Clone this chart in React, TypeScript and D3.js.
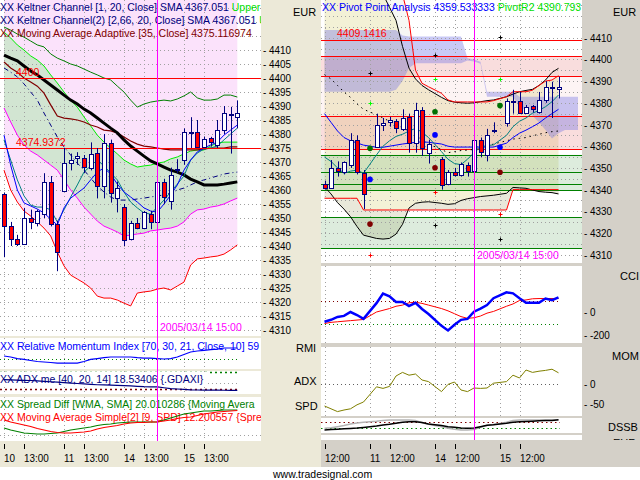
import React from 'react';
import * as d3 from 'd3';

// hourly bars, 4 sessions of 9 bars (10:00 - 18:00)
const dayLabels = ['10', '11', '14', '15'];

const opens = [4358.6, 4347.1, 4342.5, 4340.8, 4350, 4348.3, 4351.5, 4363, 4347.8,
  4359.8, 4369.7, 4371.3, 4371.5, 4367.9, 4373.3, 4361.5, 4376.7, 4357,
  4354, 4342.6, 4348.3, 4346.5, 4351.3, 4348.4, 4362.9, 4356, 4367,
  4370.6, 4380.8, 4380.8, 4375.2, 4378.6, 4375.9, 4381.3, 4387, 4386.2];
const highs = [4359, 4348.6, 4344, 4353.6, 4353, 4353, 4366, 4365, 4349,
  4375, 4373, 4373.5, 4372.5, 4377, 4375, 4380, 4378, 4363,
  4355, 4349, 4350, 4352.5, 4352.5, 4365, 4364, 4368, 4371,
  4382, 4386, 4385, 4379, 4379, 4385, 4390, 4389.7, 4392];
const lows = [4336, 4340, 4340, 4340.5, 4346, 4347, 4350, 4347, 4331,
  4359.5, 4367, 4369, 4366, 4367, 4357, 4357, 4355.5, 4352,
  4340, 4342, 4346, 4346, 4346, 4348, 4355, 4353, 4366,
  4369, 4375, 4375, 4375, 4375.5, 4375, 4380, 4373, 4382];
const closes = [4347.1, 4342.5, 4340.8, 4350, 4348.4, 4352.5, 4362.8, 4348, 4338,
  4369.7, 4370.8, 4372.3, 4368.2, 4373, 4361.5, 4376.7, 4359, 4360.8,
  4342, 4348.3, 4346.5, 4352, 4348.4, 4362.8, 4357.5, 4365.2, 4367.5,
  4380.8, 4380.6, 4375.2, 4378.2, 4377, 4381.3, 4387.4, 4387.1, 4387.4];

// ---- left chart: Keltner channels + averages (per bar) ----
const keltUpperOuter = [4418.2, 4417.1, 4415.7, 4414.6, 4413.2, 4411.8, 4411.1, 4408.6, 4407.1, 4406.1, 4405.0, 4404.3, 4403.2, 4402.1, 4401.1, 4400.0, 4399.3, 4397.1, 4395.0, 4392.1, 4389.6, 4390.7, 4391.4, 4391.8, 4392.1, 4391.8, 4392.5, 4393.6, 4395.0, 4392.9, 4392.1, 4392.1, 4392.5, 4393.9, 4393.9, 4393.2];
const keltLowerOuter = [4367.1, 4360.0, 4355.7, 4352.5, 4350.7, 4348.6, 4346.4, 4343.6, 4337.9, 4332.9, 4329.6, 4328.2, 4326.8, 4325.0, 4322.1, 4321.4, 4321.4, 4320.7, 4319.6, 4318.6, 4323.2, 4323.6, 4323.9, 4324.6, 4325.0, 4324.3, 4325.7, 4327.1, 4333.2, 4335.4, 4335.7, 4336.1, 4336.4, 4337.1, 4338.6, 4340.4];
const keltUpperInner = [4416.4, 4414.3, 4411.8, 4410.0, 4407.9, 4406.4, 4404.3, 4401.1, 4398.2, 4395.0, 4392.1, 4389.6, 4386.1, 4382.9, 4379.6, 4377.1, 4375.0, 4372.9, 4370.7, 4369.3, 4368.2, 4368.6, 4368.9, 4369.6, 4370.0, 4371.1, 4371.8, 4372.9, 4373.9, 4374.3, 4374.3, 4375.7, 4376.8, 4377.1, 4377.1, 4377.1];
const keltLowerInner = [4389.3, 4384.3, 4379.6, 4376.1, 4373.9, 4372.5, 4370.7, 4368.9, 4367.1, 4363.6, 4360.0, 4357.1, 4353.9, 4351.4, 4348.9, 4347.1, 4346.1, 4345.0, 4343.6, 4343.9, 4344.3, 4344.6, 4345.4, 4345.7, 4346.1, 4346.4, 4347.1, 4348.6, 4351.4, 4352.9, 4353.2, 4353.9, 4354.3, 4355.0, 4356.1, 4357.1];
const keltSma = [4408.2, 4407.1, 4406.1, 4404.3, 4402.5, 4401.1, 4399.3, 4397.5, 4395.7, 4393.9, 4392.1, 4390.7, 4388.9, 4387.5, 4385.7, 4383.9, 4382.1, 4380.4, 4377.9, 4375.7, 4373.9, 4372.1, 4370.4, 4369.3, 4368.2, 4367.1, 4366.4, 4365.4, 4363.9, 4362.9, 4361.8, 4361.8, 4361.8, 4362.1, 4362.5, 4362.9];
const adaptiveMa = [4405.7, 4403.6, 4402.1, 4400.0, 4398.6, 4397.1, 4394.6, 4390.4, 4386.4, 4385.7, 4385.4, 4385.0, 4384.3, 4383.2, 4382.5, 4381.4, 4381.1, 4380.4, 4378.9, 4377.5, 4376.4, 4375.7, 4375.4, 4375.0, 4374.6, 4374.3, 4374.3, 4374.3, 4374.3, 4374.3, 4374.6, 4375.0, 4375.0, 4375.0, 4375.4, 4375.4];
const slowMa = [4403.6, 4402.1, 4400.4, 4397.9, 4395.0, 4392.1, 4387.5, 4383.2, 4378.9, 4375.4, 4372.5, 4369.6, 4367.1, 4364.3, 4361.4, 4359.3, 4357.5, 4356.4, 4356.4, 4356.4, 4356.8, 4357.1, 4357.5, 4357.9, 4358.2, 4358.9, 4360.0, 4360.7, 4361.8, 4362.9, 4363.6, 4364.3, 4365.0, 4365.7, 4366.1, 4366.4];
const fastMa = [4379.6, 4368.9, 4360.0, 4355.4, 4354.3, 4353.2, 4351.8, 4349.6, 4347.5, 4353.6, 4357.1, 4358.9, 4360.7, 4363.6, 4366.4, 4367.9, 4365.7, 4362.1, 4359.3, 4357.5, 4355.7, 4353.6, 4352.5, 4352.1, 4355.0, 4358.2, 4361.8, 4367.1, 4370.7, 4373.6, 4375.0, 4376.1, 4377.1, 4379.6, 4381.4, 4383.2];
const midMa = [4377.9, 4370.7, 4363.6, 4357.9, 4354.6, 4353.9, 4353.9, 4352.9, 4348.6, 4352.9, 4357.5, 4361.8, 4366.4, 4368.6, 4370.7, 4368.6, 4366.1, 4363.6, 4359.3, 4355.7, 4353.6, 4351.8, 4351.4, 4353.9, 4356.4, 4359.3, 4362.1, 4365.0, 4370.7, 4373.2, 4374.6, 4375.0, 4375.7, 4377.9, 4380.0, 4382.1];
const leftLevels = [4400, 4374.9372];
const leftLevelLabels = ['4400', '4374.9372'];

const rmi = [36.7, 34.4, 31, 29, 26.7, 24.4, 23.3, 22.2, 21, 21, 21, 21, 24.4, 29, 31, 33, 34.4, 34.4, 34.4, 34.4, 33, 32, 32, 31, 30, 31, 34.4, 40, 45.5, 47.8, 49, 51, 52, 54.4, 54.4, 54.4];
const adx = [31, 30.8, 30.5, 30.2, 30, 29.5, 29, 28.5, 28, 27.5, 27, 26.5, 26, 25.5, 25, 24.8, 24.5, 24.3, 24, 23.6, 23.2, 22.8, 22.6, 22.4, 21.5, 20.5, 20, 19.5, 19, 18.8, 18.7, 18.6, 18.6, 18.5, 18.5, 18.5];
const spreadDiff = [2, 0, -1.5, -3, -3.5, -4, -4, -3.5, -3, -1.5, 0, 1, 2, 3, 4.5, 5.5, 6, 7, 7.5, 8, 8, 8, 8, 8, 10, 12, 14, 16, 17, 18, 19, 19, 19.5, 20, 20, 20];
const spreadMa = [10, 8, 6.5, 5, 3.5, 1.5, 0, -1.5, -2.5, -3, -3, -2.5, -2, -1, 1, 2.5, 3.5, 4.5, 6, 7, 7.5, 7.5, 8, 8, 9, 10, 11.5, 12.5, 13, 14.5, 16, 17, 18, 18.5, 19, 19.5];

const leftTickBars = [0, 3, 9, 12, 18, 21, 27, 30];
const leftTickLabels = dayLabels.flatMap((d) => [d, '13:00']);

// ---- right chart: pivot analysis (bars 3..36, per bar) ----
const envUpper = [4470, 4466, 4462, 4458, 4454, 4450, 4446, 4436, 4430, 4424, 4418, 4406, 4396, 4391, 4388, 4386, 4382.5, 4381, 4380.3, 4380, 4379.8, 4380, 4380.5, 4381, 4381.3, 4382.8, 4384, 4385.1, 4385.7, 4386.2, 4388, 4390.5, 4394, 4395.9];
const envLower = [4341.3, 4338, 4334, 4331, 4327.5, 4323, 4319, 4317.5, 4317.2, 4317.5, 4319.5, 4324, 4331.5, 4333.7, 4334.2, 4334.4, 4333.7, 4333.2, 4333.5, 4335, 4335.8, 4336.3, 4336.8, 4337.1, 4337.4, 4338.3, 4341, 4340.8, 4340.6, 4339.8, 4339.1, 4338.8, 4338.6, 4338];
const chanUpper = [4450, 4450, 4450, 4450, 4450, 4450, 4450, 4450, 4450, 4450, 4440, 4430, 4418, 4395, 4389, 4387.4, 4384.4, 4381.3, 4380.4, 4380.4, 4380.4, 4380.4, 4380.4, 4380.4, 4381, 4382.8, 4385.1, 4385.1, 4385.1, 4385.8, 4388, 4390, 4390.5, 4392.5];
const chanLower = [4336, 4336, 4336, 4336, 4336, 4336, 4330.6, 4330.6, 4330.6, 4330.6, 4330.6, 4330.6, 4330.6, 4330.6, 4330.6, 4330.6, 4330.6, 4330.6, 4330.6, 4330.6, 4330.6, 4330.6, 4330.6, 4330.6, 4330.6, 4330.6, 4340, 4340, 4340, 4340, 4340, 4340, 4340, 4340];
const rFast = [4375, 4371, 4367, 4364, 4362.5, 4361.5, 4360.5, 4359.5, 4359.5, 4360, 4360.5, 4361, 4361.4, 4361.8, 4362, 4361.8, 4361, 4360, 4359.6, 4359.6, 4359.6, 4359.6, 4359.6, 4359.6, 4359.6, 4361.4, 4364, 4366, 4367.4, 4369, 4370.7, 4373, 4375, 4377];
const rMid = [4355, 4353, 4350, 4347.5, 4348.5, 4349, 4347.5, 4356, 4360, 4362.5, 4364.5, 4365.5, 4367, 4368.2, 4366.5, 4364, 4357.5, 4354, 4352, 4351.5, 4354, 4357, 4359.6, 4360.3, 4360.6, 4365, 4369, 4371.5, 4373, 4375.2, 4376.5, 4378.2, 4380.5, 4383.6];
const rLag = [4393, 4391, 4388, 4385, 4382.5, 4379.5, 4377, 4374.5, 4373, 4371.5, 4370, 4368.5, 4367, 4365, 4363, 4361, 4358.5, 4357, 4357.5, 4358, 4358.2, 4358.5, 4359, 4360, 4361, 4362.5, 4363.3, 4363.6, 4364, 4364.8, 4365.5, 4366.2, 4366.7, 4367];
const cci = [-85, -68, -43, -34, 0, -26, -60, 77, 160, 137, 88, 88, 51, 80, 26, -17, -120, -160, -111, -68, -60, 3, 30, 60, 120, 171, 162, 120, 80, 80, 80, 117, 103, 128];
const cciMa = [-100, -90, -85, -80, -75, -70, -65, 0, 15, 30, 50, 60, 80, 85, 75, 60, 30, 10, -15, -40, -55, -50, -35, -10, 5, 50, 70, 100, 105, 115, 117, 117, 117, 117];
const mom = [-55, -62, -69, -65, -62, -52, -45, -7, -11, -6, 20, 29, 22, 25, 10, 6, -19, -1, 5, -15, -19, -10, -11, -10, 2, 6, 22, 15, 35, 29, 32, 34, 37, 28];
const dssK = [5, 8, 12, 15, 18, 22, 28, 40, 50, 56, 65, 75, 80, 80, 72, 60, 45, 35, 30, 22, 20, 22, 35, 48, 52, 65, 75, 80, 82, 85, 88, 90, 92, 97];
const dssD = [20, 25, 35, 45, 60, 68, 75, 85, 92, 95, 95, 95, 95, 90, 70, 56, 35, 20, 12, 5, 5, 10, 30, 45, 55, 75, 90, 95, 95, 95, 95, 95, 95, 95];

// cloud, slots 3..42 (runs past the last bar)
const cloudTop = [4413.5, 4413.5, 4413.5, 4413.5, 4413.5, 4413.5, 4413.5, 4413.5, 4413.5, 4413.5, 4413.5, 4413.5, 4411, 4410.5, 4410.5, 4410.5, 4410.5, 4410.5, 4410.5, 4410.5, 4410.5, 4410.5, 4400.5, 4400, 4398.9, 4385.1, 4385.1, 4385.1, 4385.1, 4385.1, 4382.8, 4382.8, 4382.8, 4382.8, 4382.8, 4382.8, 4382.8, 4382.8, 4382.8, 4382.8];
const cloudBottom = [4385.1, 4385.1, 4385.1, 4385.1, 4385.1, 4385.1, 4385.1, 4385.1, 4385.1, 4385.1, 4385.1, 4386, 4390, 4396, 4398.2, 4398.2, 4398.2, 4398.2, 4398.2, 4398.2, 4398.2, 4398.2, 4399.5, 4399, 4398, 4382.8, 4382.8, 4382.8, 4382.8, 4382.8, 4378, 4376.7, 4374, 4371, 4367.5, 4363.6, 4366, 4367.5, 4367.5, 4367.5];

// daily pivots (sessions 11, 14, 15)
const pivotR3 = [4393.6, 4402, 4410.5];
const pivotR2 = [4379.8, 4390.8, 4390.8];
const pivotR1 = [4359, 4375.9, 4378.7];
const pivotPP = [4344.7, 4365.2, 4359.5];
const pivotS1 = [4324.1, 4350.1, 4348];
const pivotS2 = [4309.9, 4338.8, 4328.8];
const pivotS3 = [4290, 4323.7, 4317.1];
const redLevels = [4409.1416, 4401.4, 4392.4, 4373.9, 4358.7];
const greenLevels = [4356, 4348.1, 4342.5, 4339.8, 4327.3, 4313];
const pinkZones = [[4392.4, 4401.4], [4373.9, 4392.4], [4358.7, 4373.9]];
const greenZones = [[4339.8, 4356], [4313, 4327.3]];

const rightTickSlots = [3, 10, 13, 20, 23, 30, 33];
const rightTickLabels = ['12:00', ...dayLabels.slice(1).flatMap((d) => [d, '12:00'])];

const FONT = "'Liberation Sans', Arial, sans-serif";

// scales
const xL = d3.scaleLinear().domain([0, 35]).range([4, 237.3]);
const xR = d3.scaleLinear().domain([0, 39]).range([305, 558.5]);
const yL = d3.scaleLinear().domain([4310, 4410]).range([330, 50]);
const yR = d3.scaleLinear().domain([4310, 4410]).range([254.7, 37.7]);
const yRmi = d3.scaleLinear().domain([30, 70]).range([359, 341]);
const yAdx = d3.scaleLinear().domain([20, 40]).range([389, 372]);
const ySpd = d3.scaleLinear().domain([0, 20]).range([430, 410]);
const yCci = d3.scaleLinear().domain([0, -200]).range([312, 335]);
const yMom = d3.scaleLinear().domain([0, -50]).range([384, 404]);
const yDss = d3.scaleLinear().domain([20, 80]).range([428.3, 421.7]);

const slotOf = (i: number) => Math.floor(i / 9) * 10 + 1 + (i % 9);
const rightBars = d3.range(2, 36);
const rx = (k: number) => xR(slotOf(rightBars[k]));
const px = (v: number) => Math.round(v) + 0.5;

const lpath = (vals: number[], y: (v: number) => number) =>
  d3.line<number>().x((_, i) => xL(i)).y((v) => y(v))(vals) || '';
const rpath = (vals: number[], y: (v: number) => number) =>
  d3.line<number>().x((_, k) => rx(k)).y((v) => y(v))(vals) || '';
const larea = (lo: number[], hi: number[]) =>
  d3.area<number>().x((_, i) => xL(i)).y0((v) => yL(v)).y1((_, i) => yL(hi[i]))(lo) || '';
const rarea = (lo: number[], hi: number[]) =>
  d3.area<number>().x((_, k) => rx(k)).y0((v) => yR(v)).y1((_, k) => yR(hi[k]))(lo) || '';

const Txt = ({ x, y, fill = '#000', size = 10.5, sx = 1, children }: any) => (
  <text transform={`translate(${x},${y}) scale(${sx},1)`} fill={fill} fontSize={size} fontFamily={FONT}>
    {children}
  </text>
);

const Candle = ({ x, i, y }: any) => {
  const cx = px(x);
  const o = opens[i], c = closes[i];
  const top = Math.round(y(Math.max(o, c))) + 0.5;
  const bot = Math.round(y(Math.min(o, c))) + 0.5;
  return (
    <g>
      <line x1={cx} x2={cx} y1={y(highs[i])} y2={y(lows[i])} stroke="#000080" />
      <rect x={cx - 2} y={top} width={4} height={Math.max(1, bot - top)}
        fill={c >= o ? '#ffffff' : '#ff0000'} stroke="#000080" />
    </g>
  );
};

const Cross = ({ x, y, color }: any) => (
  <g stroke={color}>
    <line x1={px(x) - 2} x2={px(x) + 2} y1={px(y)} y2={px(y)} />
    <line x1={px(x)} x2={px(x)} y1={px(y) - 2} y2={px(y) + 2} />
  </g>
);

const dot = '1 3';

export default function App() {
  const leftPriceTicks = d3.range(4310, 4411, 5);
  const rightPriceTicks = d3.range(4310, 4411, 10);
  const leftGridY = d3.range(4310, 4426, 5);
  const rightGridY = d3.range(4305, 4426, 5);
  const leftTickX = leftTickBars.map((b) => px(xL(b)));
  const rightTickX = rightTickSlots.map((s) => px(xR(s)));
  const cursorL = px(xL(23));
  const cursorR = px(xR(26));
  const cloudSlots = d3.range(3, 43);
  const cloudPath = d3.area<number>().x((s) => xR(s))
    .y0((_, k) => yR(cloudBottom[k])).y1((_, k) => yR(cloudTop[k]))(cloudSlots) || '';
  const pivotX = [10, 20, 30].map((s) => xR(s));

  const vGrid = (xs: number[], y0: number, y1: number) =>
    xs.map((x, k) => <line key={k} x1={x} x2={x} y1={y0} y2={y1} stroke="#a0a0a0" strokeDasharray={dot} />);

  return (
    <svg width={640} height={480} style={{ position: 'absolute', left: 0, top: 0 }} fontFamily={FONT}>
      <defs>
        <clipPath id="lm"><rect x={0} y={0} width={261} height={336} /></clipPath>
        <clipPath id="lr"><rect x={0} y={338} width={261} height={31} /></clipPath>
        <clipPath id="la"><rect x={0} y={371} width={261} height={23} /></clipPath>
        <clipPath id="ls"><rect x={0} y={397} width={261} height={44} /></clipPath>
        <clipPath id="rm"><rect x={321} y={0} width={261} height={263} /></clipPath>
        <clipPath id="rc"><rect x={321} y={266} width={261} height={77} /></clipPath>
        <clipPath id="ro"><rect x={321} y={347} width={261} height={69} /></clipPath>
        <clipPath id="rd"><rect x={321} y={418} width={261} height={15} /></clipPath>
        <clipPath id="ax"><rect x={582} y={0} width={58} height={440} /></clipPath>
      </defs>

      {/* frames */}
      <rect x={0} y={0} width={321} height={467} fill="#ece9d8" />
      <rect x={321} y={0} width={319} height={467} fill="#d4d0c8" />
      <rect x={0} y={467} width={640} height={13} fill="#ffffff" />
      <rect x={0} y={0} width={261} height={336} fill="#ffffff" />
      <rect x={0} y={338} width={261} height={31} fill="#ffffff" />
      <rect x={0} y={371} width={261} height={23} fill="#ffffff" />
      <rect x={0} y={397} width={261} height={44} fill="#ffffff" />
      <rect x={321} y={0} width={261} height={263} fill="#ffffff" />
      <rect x={321} y={266} width={261} height={77} fill="#ffffff" />
      <rect x={321} y={347} width={261} height={69} fill="#ffffff" />
      <rect x={321} y={418} width={261} height={15} fill="#ffffff" />
      <rect x={321} y={435} width={261} height={5} fill="#ffffff" />

      {/* ===== LEFT MAIN ===== */}
      <g clipPath="url(#lm)">
        <path d={d3.area<number>().x((_, i) => xL(i)).y0((v) => yL(v)).y1(0)(keltLowerOuter) || ''} fill="#fbe2fb" />
        <path d={larea(keltLowerInner, keltUpperInner)} fill="#d2e5d2" />
        {leftGridY.map((v) => (
          <line key={v} x1={0} x2={261} y1={px(yL(v))} y2={px(yL(v))} stroke="#a0a0a0" strokeDasharray={dot} />
        ))}
        {vGrid(leftTickX, 0, 336)}
        <path d={lpath(keltUpperOuter, yL)} fill="none" stroke="#008000" />
        <path d={lpath(keltLowerOuter, yL)} fill="none" stroke="#ff0000" />
        <path d={lpath(keltUpperInner, yL)} fill="none" stroke="#00ee00" />
        <path d={lpath(keltLowerInner, yL)} fill="none" stroke="#ff00ff" />
        <path d={lpath(slowMa, yL)} fill="none" stroke="#000080" strokeDasharray="5 3 1 3" />
        <path d={lpath(adaptiveMa, yL)} fill="none" stroke="#800000" strokeWidth={1.2} />
        <path d={lpath(keltSma, yL)} fill="none" stroke="#000000" strokeWidth={3} />
        <path d={lpath(midMa, yL)} fill="none" stroke="#008080" />
        <path d={lpath(fastMa, yL)} fill="none" stroke="#0000ff" />
        {leftLevels.map((v, k) => (
          <g key={v}>
            <line x1={0} x2={261} y1={px(yL(v))} y2={px(yL(v))} stroke="#ff0000" />
            <Txt x={16} y={px(yL(v)) - 3} fill="#ff0000">{leftLevelLabels[k]}</Txt>
          </g>
        ))}
        {opens.map((_, i) => <Candle key={i} x={xL(i)} i={i} y={yL} />)}
        <Txt x={0} y={11} fill="#000080">XX Keltner Channel [1, 20, Close] SMA 4367.051 <tspan fill="#00dd00">Upper</tspan></Txt>
        <Txt x={0} y={24} fill="#000080">XX Keltner Channel(2) [2,66, 20, Close] SMA 4367.051 <tspan fill="#00dd00">U</tspan></Txt>
        <Txt x={0} y={37} fill="#800000">XX Moving Average Adaptive [35, Close] 4375.116974</Txt>
        <Txt x={160} y={331} fill="#ff00ff">2005/03/14 15:00</Txt>
      </g>

      {/* ===== LEFT SUB PANELS ===== */}
      <g clipPath="url(#lr)">
        {vGrid(leftTickX, 338, 369)}
        <line x1={0} x2={237} y1={px(yRmi(30))} y2={px(yRmi(30))} stroke="#008000" strokeDasharray={dot} />
        <Txt x={0} y={350} fill="#0000ff">XX Relative Momentum Index [70, 30, 21, Close, 10] 59</Txt>
        <path d={lpath(rmi, yRmi)} fill="none" stroke="#0000ff" strokeWidth={1.2} />
      </g>
      <g clipPath="url(#la)">
        {vGrid(leftTickX, 371, 394)}
        <line x1={0} x2={237} y1={px(yAdx(20))} y2={px(yAdx(20))} stroke="#800000" strokeDasharray="2 3" strokeWidth={1.5} />
        <line x1={0} x2={237} y1={px(yAdx(40))} y2={px(yAdx(40))} stroke="#008000" strokeDasharray="2 3" strokeWidth={1.5} />
        <line x1={0} x2={237} y1={px(yAdx(27))} y2={px(yAdx(27))} stroke="#a0a0a0" strokeDasharray={dot} />
        <rect x={0} y={372} width={208} height={12} fill="#ffffff" />
        <Txt x={0} y={383} fill="#000080">XX ADX me [40, 20, 14] 18.53406 {'{.GDAXI}'}</Txt>
        <path d={lpath(adx, yAdx)} fill="none" stroke="#000080" strokeWidth={1.2} />
      </g>
      <g clipPath="url(#ls)">
        {vGrid(leftTickX, 397, 441)}
        <line x1={0} x2={261} y1={px(ySpd(-5))} y2={px(ySpd(-5))} stroke="#a0a0a0" strokeDasharray={dot} />
        <Txt x={0} y={408} fill="#008000">XX Spread Diff [WMA, SMA] 20.010286 {'{Moving Avera'}</Txt>
        <Txt x={0} y={421} fill="#ff0000">XX Moving Average Simple[2] [9, SPD] 12.200557 {'{Spre'}</Txt>
        <path d={lpath(spreadDiff, ySpd)} fill="none" stroke="#008000" strokeWidth={1.2} />
        <path d={lpath(spreadMa, ySpd)} fill="none" stroke="#ff0000" strokeWidth={1.2} />
      </g>
      <line x1={cursorL} x2={cursorL} y1={0} y2={441} stroke="#ff00ff" />

      {/* left axes */}
      <Txt x={293} y={16} size={11}>EUR</Txt>
      {leftPriceTicks.map((v) => (
        <Txt key={v} x={263} y={yL(v) + 4} size={11} sx={0.9}>- {v}</Txt>
      ))}
      <Txt x={296} y={352} size={11}>RMI</Txt>
      <Txt x={294} y={385} size={11}>ADX</Txt>
      <Txt x={295} y={410} size={11}>SPD</Txt>
      {leftTickX.map((x, k) => (
        <g key={k}>
          <line x1={x} x2={x} y1={444} y2={449} stroke="#000" />
          <Txt x={x - 0.5} y={462} size={11} sx={0.9}>{leftTickLabels[k]}</Txt>
        </g>
      ))}

      {/* ===== RIGHT MAIN ===== */}
      <g clipPath="url(#rm)">
        <path d={rarea(envLower, envUpper)} fill="#f3f1d6" />
        <path d={rarea(chanUpper, envUpper)} fill="#f7f7f4" />
        <path d={rarea(chanLower, envLower)} fill="#e9e8da" />
        {pinkZones.map(([lo, hi], k) => (
          <rect key={k} x={321} width={261} y={yR(hi)} height={yR(lo) - yR(hi)}
            fill="#e87878" fillOpacity={k === 1 ? 0.08 : 0.25} />
        ))}
        {greenZones.map(([lo, hi], k) => (
          <rect key={k} x={321} width={261} y={yR(hi)} height={yR(lo) - yR(hi)}
            fill="#64aa64" fillOpacity={0.22} />
        ))}
        <path d={cloudPath} fill="#7878e6" fillOpacity={0.4} />
        {rightGridY.map((v) => (
          <line key={v} x1={321} x2={582} y1={px(yR(v))} y2={px(yR(v))} stroke="#a0a0a0" strokeDasharray={dot} />
        ))}
        {vGrid(rightTickX, 0, 263)}
        {redLevels.map((v) => (
          <line key={v} x1={321} x2={582} y1={px(yR(v))} y2={px(yR(v))} stroke="#ff0000" />
        ))}
        {greenLevels.map((v) => (
          <line key={v} x1={321} x2={582} y1={px(yR(v))} y2={px(yR(v))} stroke="#008000" />
        ))}
        <path d={rpath(envUpper, yR)} fill="none" stroke="#000" />
        <path d={rpath(envLower, yR)} fill="none" stroke="#000" />
        <path d={rpath(chanUpper, yR)} fill="none" stroke="#ff0000" />
        <path d={rpath(chanLower, yR)} fill="none" stroke="#ff0000" />
        <path d={rpath(rLag, yR)} fill="none" stroke="#000" strokeDasharray="1.5 4" />
        <path d={rpath(rFast, yR)} fill="none" stroke="#0000ff" />
        <path d={rpath(rMid, yR)} fill="none" stroke="#008080" />
        {rightBars.map((i) => <Candle key={i} x={xR(slotOf(i))} i={i} y={yR} />)}
        {pivotX.map((x, k) => (
          <g key={k}>
            <Cross x={x} y={yR(pivotR3[k])} color="#000" />
            <Cross x={x} y={yR(pivotR2[k])} color="#00ff00" />
            <circle cx={x} cy={yR(pivotR1[k])} r={2.8} fill="#007000" />
            <circle cx={x} cy={yR(pivotPP[k])} r={2.8} fill="#0000ff" />
            <circle cx={x} cy={yR(pivotS1[k])} r={2.8} fill="#800000" />
            <Cross x={x} y={yR(pivotS2[k])} color="#ff0000" />
            <Cross x={x} y={yR(pivotS3[k])} color="#000" />
          </g>
        ))}
        <Txt x={337} y={37} fill="#ff0000">4409.1416</Txt>
        <Txt x={322} y={11} fill="#0000ff">XX Pivot Point Analysis 4359.533333 <tspan fill="#00e000">PivotR2 4390.793</tspan></Txt>
        <Txt x={477} y={259} fill="#ff00ff">2005/03/14 15:00</Txt>
      </g>

      {/* ===== RIGHT SUB PANELS ===== */}
      <g clipPath="url(#rc)">
        {vGrid(rightTickX, 266, 343)}
        <line x1={321} x2={560} y1={px(yCci(100))} y2={px(yCci(100))} stroke="#800000" strokeDasharray={dot} />
        <line x1={321} x2={560} y1={px(yCci(-100))} y2={px(yCci(-100))} stroke="#008000" strokeDasharray={dot} />
        <path d={rpath(cciMa, yCci)} fill="none" stroke="#ff0000" />
        <path d={rpath(cci, yCci)} fill="none" stroke="#0000ff" strokeWidth={2.5} />
      </g>
      <g clipPath="url(#ro)">
        {vGrid(rightTickX, 347, 416)}
        <line x1={321} x2={560} y1={px(yMom(0))} y2={px(yMom(0))} stroke="#606060" strokeDasharray={dot} />
        <path d={rpath(mom, yMom)} fill="none" stroke="#808000" />
      </g>
      <g clipPath="url(#rd)">
        <line x1={321} x2={560} y1={px(yDss(80))} y2={px(yDss(80))} stroke="#800000" strokeDasharray="1.5 3" />
        <line x1={321} x2={560} y1={px(yDss(20))} y2={px(yDss(20))} stroke="#008000" strokeDasharray="1.5 3" />
        <path d={rpath(dssD, yDss)} fill="none" stroke="#b4b4b4" strokeWidth={1.5} />
        <path d={rpath(dssK, yDss)} fill="none" stroke="#000" strokeWidth={1.5} />
      </g>
      <line x1={cursorR} x2={cursorR} y1={0} y2={440} stroke="#ff00ff" />

      {/* right axes */}
      <Txt x={613} y={16} size={11}>EUR</Txt>
      {rightPriceTicks.map((v) => (
        <Txt key={v} x={584} y={yR(v) + 4} size={11} sx={0.9}>- {v}</Txt>
      ))}
      <Txt x={620} y={280} size={11}>CCI</Txt>
      <Txt x={584} y={yCci(0) + 4} size={11} sx={0.9}>- 0</Txt>
      <Txt x={584} y={yCci(-200) + 4} size={11} sx={0.9}>- -200</Txt>
      <Txt x={612} y={360} size={11}>MOM</Txt>
      <Txt x={584} y={yMom(0) + 4} size={11} sx={0.9}>- 0</Txt>
      <Txt x={584} y={yMom(-50) + 4} size={11} sx={0.9}>- -50</Txt>
      <Txt x={608} y={431} size={11}>DSSB</Txt>
      <g clipPath="url(#ax)">
        <Txt x={613} y={447} size={11}>EUR</Txt>
      </g>
      {rightTickX.map((x, k) => (
        <g key={k}>
          <line x1={x} x2={x} y1={444} y2={449} stroke="#000" />
          <Txt x={x - 0.5} y={462} size={11} sx={0.9}>{rightTickLabels[k]}</Txt>
        </g>
      ))}

      <Txt x={273} y={478} size={10.5}>www.tradesignal.com</Txt>
    </svg>
  );
}
